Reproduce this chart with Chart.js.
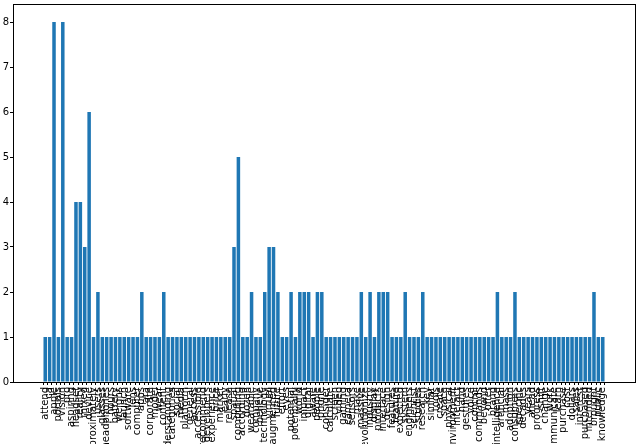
<!DOCTYPE html>
<html>
<head>
<meta charset="utf-8">
<script src="https://cdn.jsdelivr.net/npm/chart.js@4.4.1/dist/chart.umd.min.js"></script>
<style>
  html, body { margin: 0; padding: 0; background: #fff; }
  canvas { display: block; }
</style>
</head>
<body>
<canvas id="wordChart" width="640" height="444"></canvas>
<script>
const words = [
    'attend', 'ca', 'apple', 'portals', 'vision', 'pro', 'aspiring', 'headset',
    'reality', 'mixed', 'device', 'approximately', 'users', 'glasses', 'headphones', 'hours',
    'battery', 'weighs', 'launch', 'software', 'lens', 'computer', 'apps', 'ara',
    'corporate', 'model', 'wear', 'content', 'understanding', 'categories', 'social', 'media',
    'platform', 'general', 'access', 'accessible', 'recommend', 'developers', 'experience', 'price',
    'market', 'early', 'release', 'spatial', 'computing', 'according', 'dozen', 'wearable',
    'company', 'believe', 'technology', 'virtual', 'augmented', 'future', 'effort', 'eyes',
    'potential', 'potentially', 'world', 'impact', 'digital', 'aware', 'people', 'phone',
    'consider', 'calculate', 'screen', 'video', 'gaming', 'camera', 'sensors', 'make',
    'massive', 'revolutionize', 'industry', 'display', 'products', 'interface', 'design', 'features',
    'feature', 'expected', 'system', 'engineers', 'scientist', 'studies', 'research', 'key',
    'similar', 'tools', 'create', 'space', 'physical', 'environment', 'interact', 'hand',
    'gestures', 'voice', 'control', 'commands', 'beyond', 'offer', 'brand', 'intelligence',
    'artificial', 'mass', 'adoption', 'consumers', 'specific', 'decades', 'years', 'ahead',
    'progress', 'shift', 'change', 'work', 'communicate', 'learn', 'purchase', 'cost',
    'dollars', 'sales', 'interest', 'purchased', 'intended', 'brought', 'public', 'knowledge'
];

const counts = [
    1, 1, 8, 1, 8, 1, 1, 4, 4, 3, 6, 1, 2, 1, 1, 1,
    1, 1, 1, 1, 1, 1, 2, 1, 1, 1, 1, 2, 1, 1, 1, 1,
    1, 1, 1, 1, 1, 1, 1, 1, 1, 1, 1, 3, 5, 1, 1, 2,
    1, 1, 2, 3, 3, 2, 1, 1, 2, 1, 2, 2, 2, 1, 2, 2,
    1, 1, 1, 1, 1, 1, 1, 1, 2, 1, 2, 1, 2, 2, 2, 1,
    1, 1, 2, 1, 1, 1, 2, 1, 1, 1, 1, 1, 1, 1, 1, 1,
    1, 1, 1, 1, 1, 1, 1, 2, 1, 1, 1, 2, 1, 1, 1, 1,
    1, 1, 1, 1, 1, 1, 1, 1, 1, 1, 1, 1, 1, 2, 1, 1
];

const yTicks = [0, 1, 2, 3, 4, 5, 6, 7, 8];

const n = words.length;
const margin = 0.05 * (n - 0.2);
const tickFont = { family: 'DejaVu Sans', size: 10 };

const framePlugin = {
    id: 'frame',
    beforeDraw(chart) {
        const c = chart.ctx;
        c.save();
        c.fillStyle = '#fff';
        c.fillRect(0, 0, chart.width, chart.height);
        c.restore();
    },
    afterDraw(chart) {
        const a = chart.chartArea;
        const c = chart.ctx;
        c.save();
        c.strokeStyle = '#000';
        c.lineWidth = 1;
        c.strokeRect(Math.round(a.left) + 0.5, Math.round(a.top) + 0.5,
            Math.round(a.right - a.left), Math.round(a.bottom - a.top));
        c.restore();
    }
};

new Chart(document.getElementById('wordChart'), {
    type: 'bar',
    data: {
        datasets: [{
            data: counts.map((v, i) => ({ x: i, y: v })),
            backgroundColor: '#1f77b4',
            borderWidth: 0,
            barPercentage: 0.8,
            categoryPercentage: 1
        }]
    },
    options: {
        responsive: false,
        animation: false,
        layout: { padding: { top: 4, right: 5, left: 0, bottom: 0 } },
        plugins: { legend: { display: false }, tooltip: { enabled: false } },
        scales: {
            x: {
                type: 'linear',
                min: -0.4 - margin,
                max: n - 0.6 + margin,
                afterBuildTicks: s => { s.ticks = words.map((w, i) => ({ value: i })); },
                afterFit: s => { s.height = 62; s.paddingLeft = 0; s.paddingRight = 0; },
                ticks: {
                    autoSkip: false,
                    minRotation: 90,
                    maxRotation: 90,
                    padding: 2,
                    color: '#000',
                    font: tickFont,
                    callback: v => words[v]
                },
                grid: { drawOnChartArea: false, tickLength: 3, color: '#000' },
                border: { color: '#000' }
            },
            y: {
                min: 0,
                max: 8.4,
                afterBuildTicks: s => { s.ticks = yTicks.map(v => ({ value: v })); },
                afterFit: s => { s.width = 13; s.paddingTop = 0; s.paddingBottom = 0; },
                ticks: { padding: 1, color: '#000', font: tickFont },
                grid: { drawOnChartArea: false, tickLength: 3, color: '#000' },
                border: { color: '#000' }
            }
        }
    },
    plugins: [framePlugin]
});
</script>
</body>
</html>
